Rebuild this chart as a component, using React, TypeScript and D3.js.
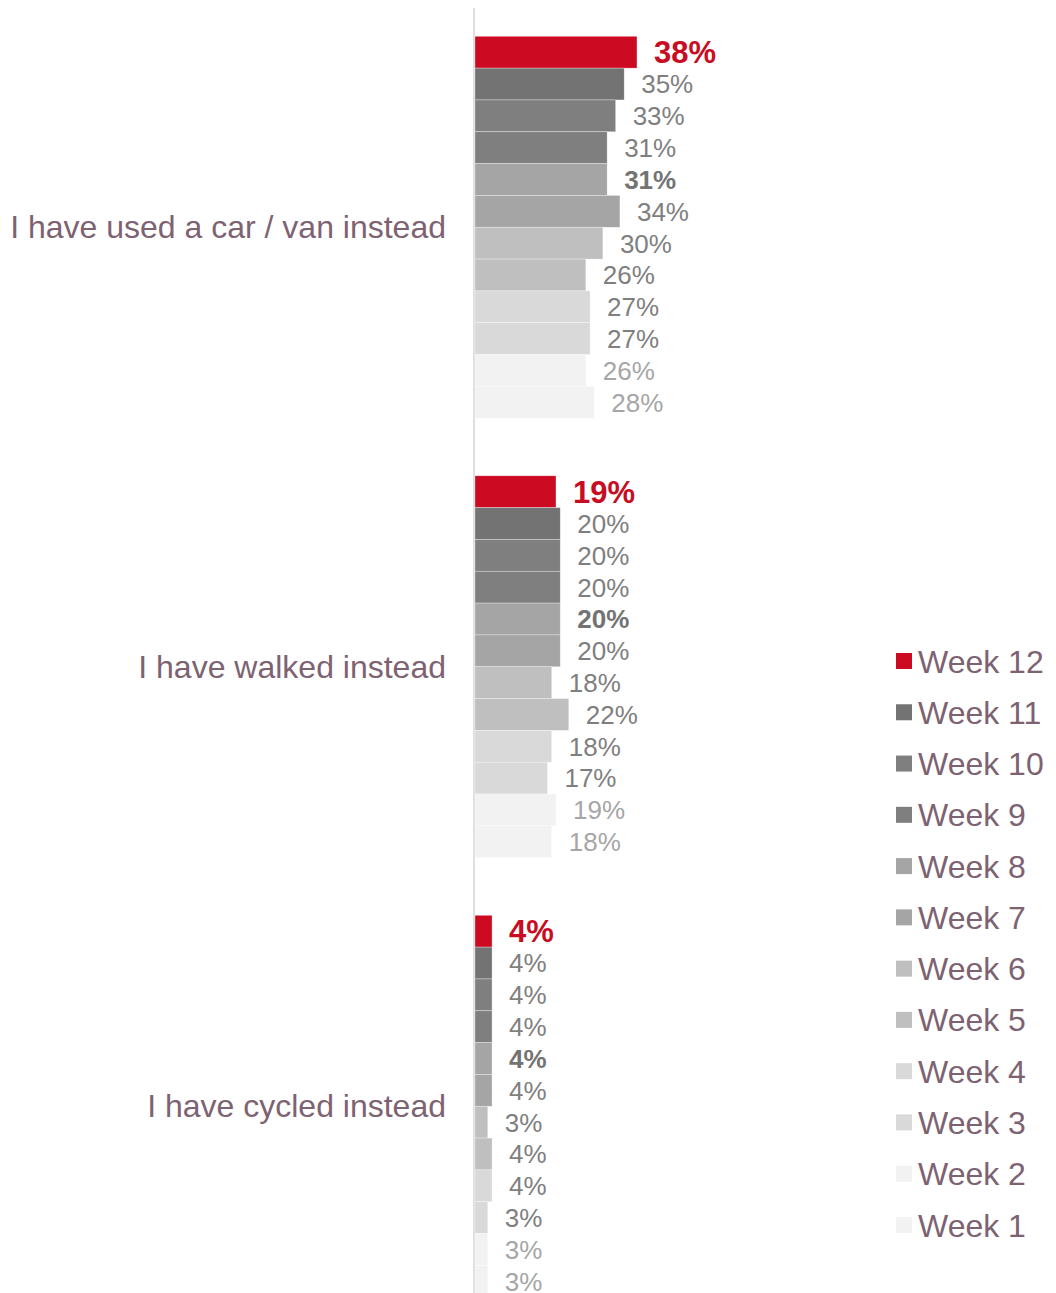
import { useEffect, useRef } from "react";
import * as d3 from "d3";

const categories = ["I have used a car / van instead", "I have walked instead", "I have cycled instead"];
const weeks = ["Week 12", "Week 11", "Week 10", "Week 9", "Week 8", "Week 7", "Week 6", "Week 5", "Week 4", "Week 3", "Week 2", "Week 1"];
const carValues = [38, 35, 33, 31, 31, 34, 30, 26, 27, 27, 26, 28];
const walkedValues = [19, 20, 20, 20, 20, 20, 18, 22, 18, 17, 19, 18];
const cycledValues = [4, 4, 4, 4, 4, 4, 3, 4, 4, 3, 3, 3];
const weekColors = ["#cc0b22", "#737373", "#7f7f7f", "#7f7f7f", "#a5a5a5", "#a5a5a5", "#bfbfbf", "#bfbfbf", "#d9d9d9", "#d9d9d9", "#f2f2f2", "#f2f2f2"];

const seriesByCategory = [carValues, walkedValues, cycledValues];

export default function App() {
  const ref = useRef<SVGSVGElement>(null);

  useEffect(() => {
    if (!ref.current) return;
    const w = 1056,
      h = 1293;
    const font = "'Liberation Sans', Arial, sans-serif";
    const mauve = "#7d6371";

    const svg = d3.select(ref.current);
    svg.selectAll("*").remove();
    svg.attr("width", w).attr("height", h).attr("viewBox", `0 0 ${w} ${h}`);

    const x = d3.scaleLinear().domain([0, 40]).range([475, 645.5]);
    const y = d3
      .scaleBand<string>()
      .domain(categories)
      .range([7.5, 7.5 + 3 * 439.5])
      .paddingInner(0.131)
      .paddingOuter(0.0655);
    const yWeek = d3.scaleBand<string>().domain(weeks).range([0, y.bandwidth()]);

    // axis line
    svg
      .append("line")
      .attr("x1", 474)
      .attr("x2", 474)
      .attr("y1", 8)
      .attr("y2", h)
      .attr("stroke", "#e2dde0")
      .attr("stroke-width", 2);

    const groups = svg
      .selectAll("g.cat")
      .data(categories)
      .join("g")
      .attr("class", "cat")
      .attr("transform", (d) => `translate(0,${y(d)})`);

    groups
      .append("text")
      .attr("x", 446)
      .attr("y", y.bandwidth() / 2)
      .attr("dy", "0.34em")
      .attr("text-anchor", "end")
      .attr("fill", mauve)
      .attr("font-family", font)
      .attr("font-size", 32)
      .text((d) => d);

    groups.each(function (cat, ci) {
      const g = d3.select(this);
      const rows = weeks.map((wk, i) => ({ wk, i, v: seriesByCategory[ci][i] }));

      g.selectAll("rect")
        .data(rows)
        .join("rect")
        .attr("x", x(0))
        .attr("y", (d) => yWeek(d.wk)!)
        .attr("width", (d) => x(d.v) - x(0))
        .attr("height", yWeek.bandwidth())
        .attr("fill", (d) => weekColors[d.i])
        .attr("stroke", "rgba(255,255,255,0.5)")
        .attr("stroke-width", 0.6);

      g.selectAll("text.val")
        .data(rows)
        .join("text")
        .attr("class", "val")
        .attr("x", (d) => x(d.v) + 17)
        .attr("y", (d) => yWeek(d.wk)! + yWeek.bandwidth() / 2)
        .attr("dy", "0.36em")
        .attr("font-family", font)
        .attr("font-size", (d) => (d.i === 0 ? 31 : 26))
        .attr("font-weight", (d) => (d.i === 0 || d.i === 4 ? "bold" : "normal"))
        .attr("fill", (d) => (d.i === 0 ? "#c80c22" : d.i >= 10 ? "#a6a6a6" : d.i === 4 ? "#737373" : "#7f7f7f"))
        .text((d) => `${d.v}%`);
    });

    // legend
    const ly = d3.scalePoint<string>().domain(weeks).range([661, 1225]);
    const legend = svg
      .selectAll("g.leg")
      .data(weeks)
      .join("g")
      .attr("class", "leg")
      .attr("transform", (d) => `translate(896,${ly(d)})`);
    legend
      .append("rect")
      .attr("x", 0)
      .attr("y", -8)
      .attr("width", 16)
      .attr("height", 16)
      .attr("fill", (d, i) => weekColors[i]);
    legend
      .append("text")
      .attr("x", 22)
      .attr("y", 0)
      .attr("dy", "0.36em")
      .attr("fill", mauve)
      .attr("font-family", font)
      .attr("font-size", 32)
      .text((d) => d);
  }, []);

  return <svg ref={ref} style={{ position: "absolute", left: 0, top: 0 }} />;
}
